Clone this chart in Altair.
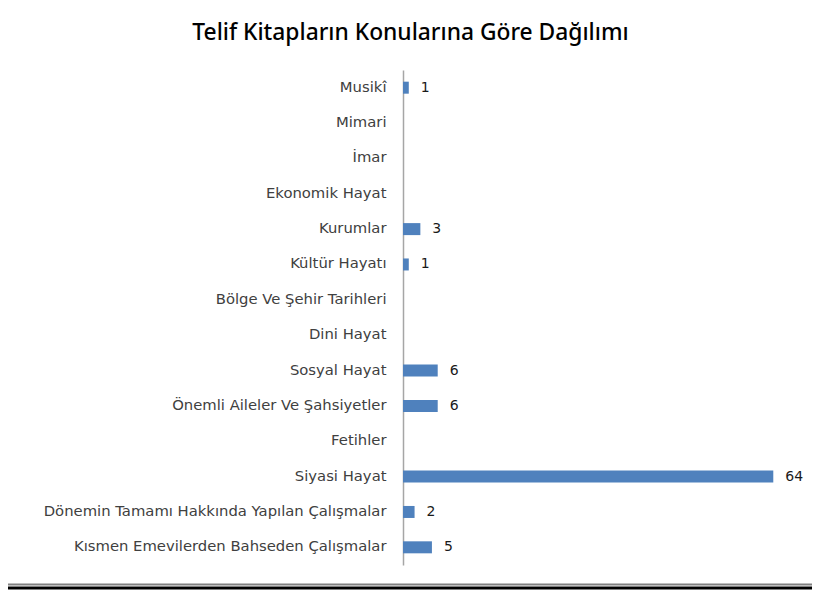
import altair as alt
import pandas as pd

categories = [
    "Musikî", "Mimari", "İmar", "Ekonomik Hayat", "Kurumlar", "Kültür Hayatı",
    "Bölge Ve Şehir Tarihleri", "Dini Hayat", "Sosyal Hayat",
    "Önemli Aileler Ve Şahsiyetler", "Fetihler", "Siyasi Hayat",
    "Dönemin Tamamı Hakkında Yapılan Çalışmalar",
    "Kısmen Emevilerden Bahseden Çalışmalar",
]
values = [1, 0, 0, 0, 3, 1, 0, 0, 6, 6, 0, 64, 2, 5]

df = pd.DataFrame({"category": categories, "value": values})

base = alt.Chart(df).encode(
    y=alt.Y(
        "category:N",
        sort=categories,
        scale=alt.Scale(paddingInner=0, paddingOuter=0),
        axis=alt.Axis(
            title=None, ticks=False, domainColor="#a6a6a6", domainWidth=1.5,
            labelPadding=17, labelFontSize=14.8, labelColor="#404040",
            labelFont="DejaVu Sans", labelLimit=400,
        ),
    )
)

bars = base.mark_bar(color="#4F81BD", size=12).encode(
    x=alt.X("value:Q", scale=alt.Scale(domain=[0, 70]), axis=None)
)

text = base.transform_filter("datum.value > 0").mark_text(
    align="left", dx=12, fontSize=14, font="DejaVu Sans", color="#1a1a1a"
).encode(x="value:Q", text="value:Q")

# decorative frame lines at the bottom of the picture
frame_df = pd.DataFrame({"k": [0]})
frame_gray = alt.Chart(frame_df).mark_rule(color="#808080", strokeWidth=2).encode(
    x=alt.value(-401), x2=alt.value(420), y=alt.value(514.5)
)
frame_black = alt.Chart(frame_df).mark_rule(color="#000000", strokeWidth=3).encode(
    x=alt.value(-401), x2=alt.value(420), y=alt.value(518)
)

chart = alt.layer(bars, text, frame_gray, frame_black).properties(
    width=405,
    height=495,
    title=alt.TitleParams(
        "Telif Kitapların Konularına Göre Dağılımı",
        font="Noto Sans", fontSize=22.8, fontWeight=500, color="#000000",
        anchor="middle", frame="group", dx=-195, offset=25,
    ),
    autosize=alt.AutoSizeParams(type="none"),
    padding={"left": 395, "top": 62, "right": 4, "bottom": 26},
).configure(background="#ffffff").configure_view(strokeWidth=0)

chart.save("out.html", embed_options={"renderer": "svg", "actions": False})
